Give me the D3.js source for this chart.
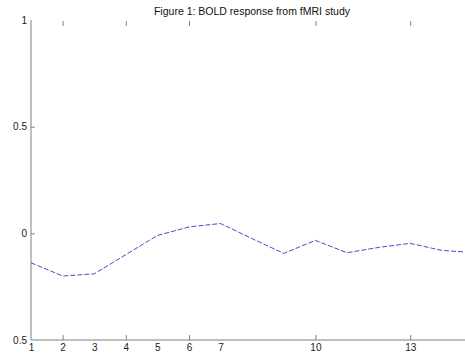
<!DOCTYPE html>
<html>
<head>
<meta charset="utf-8">
<script src="https://cdn.jsdelivr.net/npm/d3@7"></script>
<style>
  body { margin: 0; background: #fff; }
  svg { display: block; }
  .axis text { font-family: 'Liberation Sans', Arial, sans-serif; font-size: 10px; fill: #222; }
  .axis path, .axis line { stroke: #808080; }
</style>
</head>
<body>
<div id="chart"></div>
<script>
const W = 465
const H = 354

// scan index and BOLD signal
const scans = [1, 2, 3, 4, 5, 6, 7, 8, 9, 10, 11, 12, 13, 14, 15]
const bold = [-0.138, -0.2, -0.19, -0.1, -0.01, 0.03, 0.046, -0.025, -0.094, -0.033, -0.091, -0.066, -0.047, -0.08, -0.09]

const xLabels = [1, 2, 3, 4, 5, 6, 7, 10, 13]
const xTicks = [2, 4, 6, 10, 13]
const yTicks = [-0.5, 0, 0.5, 1]
const yTickLabels = ['0.5', '0', '0.5', '1']
const yMarks = [0, 0.5]

const svg = d3.select('#chart')
  .append('svg')
  .attr('width', W)
  .attr('height', H)

const x = d3.scaleLinear().domain([1, 15]).range([31, 31 + 14 * 31.6])
const y = d3.scaleLinear().domain([-0.5, 1]).range([340, 20])

// title
svg.append('text')
  .attr('x', 252)
  .attr('y', 15)
  .attr('text-anchor', 'middle')
  .attr('font-family', "'Liberation Sans', Arial, sans-serif")
  .attr('font-size', '10.5px')
  .attr('fill', '#111')
  .text('Figure 1: BOLD response from fMRI study')

// bottom axis line + labels
svg.append('g')
  .attr('class', 'axis')
  .attr('transform', 'translate(0,340)')
  .call(d3.axisBottom(x).tickValues(xLabels).tickSize(0).tickPadding(4).tickFormat(d3.format('d')))
  .call(g => g.select('.domain').attr('d', 'M31,0H' + W))

// bottom tick marks (inside)
svg.append('g')
  .attr('class', 'axis')
  .attr('transform', 'translate(0,340)')
  .call(d3.axisBottom(x).tickValues(xTicks).tickSize(-5).tickFormat(''))
  .call(g => g.select('.domain').remove())

// top tick marks
svg.append('g')
  .attr('class', 'axis')
  .attr('transform', 'translate(0,21)')
  .call(d3.axisTop(x).tickValues(xTicks).tickSize(-5).tickFormat(''))
  .call(g => g.select('.domain').remove())

// left axis with labels
svg.append('g')
  .attr('class', 'axis')
  .attr('transform', 'translate(31,0)')
  .call(d3.axisLeft(y).tickValues(yTicks).tickSize(0).tickPadding(4)
    .tickFormat((d, i) => yTickLabels[i]))
  .call(g => g.select('.domain').attr('d', 'M0,20V340'))

// left tick marks (inside)
svg.append('g')
  .attr('class', 'axis')
  .attr('transform', 'translate(31,0)')
  .call(d3.axisLeft(y).tickValues(yMarks).tickSize(-4).tickFormat(''))
  .call(g => g.select('.domain').remove())

// the response line
const line = d3.line()
  .x((d, i) => x(scans[i]))
  .y(d => y(d))

svg.append('path')
  .datum(bold)
  .attr('fill', 'none')
  .attr('stroke', '#4a4ac8')
  .attr('stroke-width', 1)
  .attr('stroke-dasharray', '5,2')
  .attr('d', line)
</script>
</body>
</html>
